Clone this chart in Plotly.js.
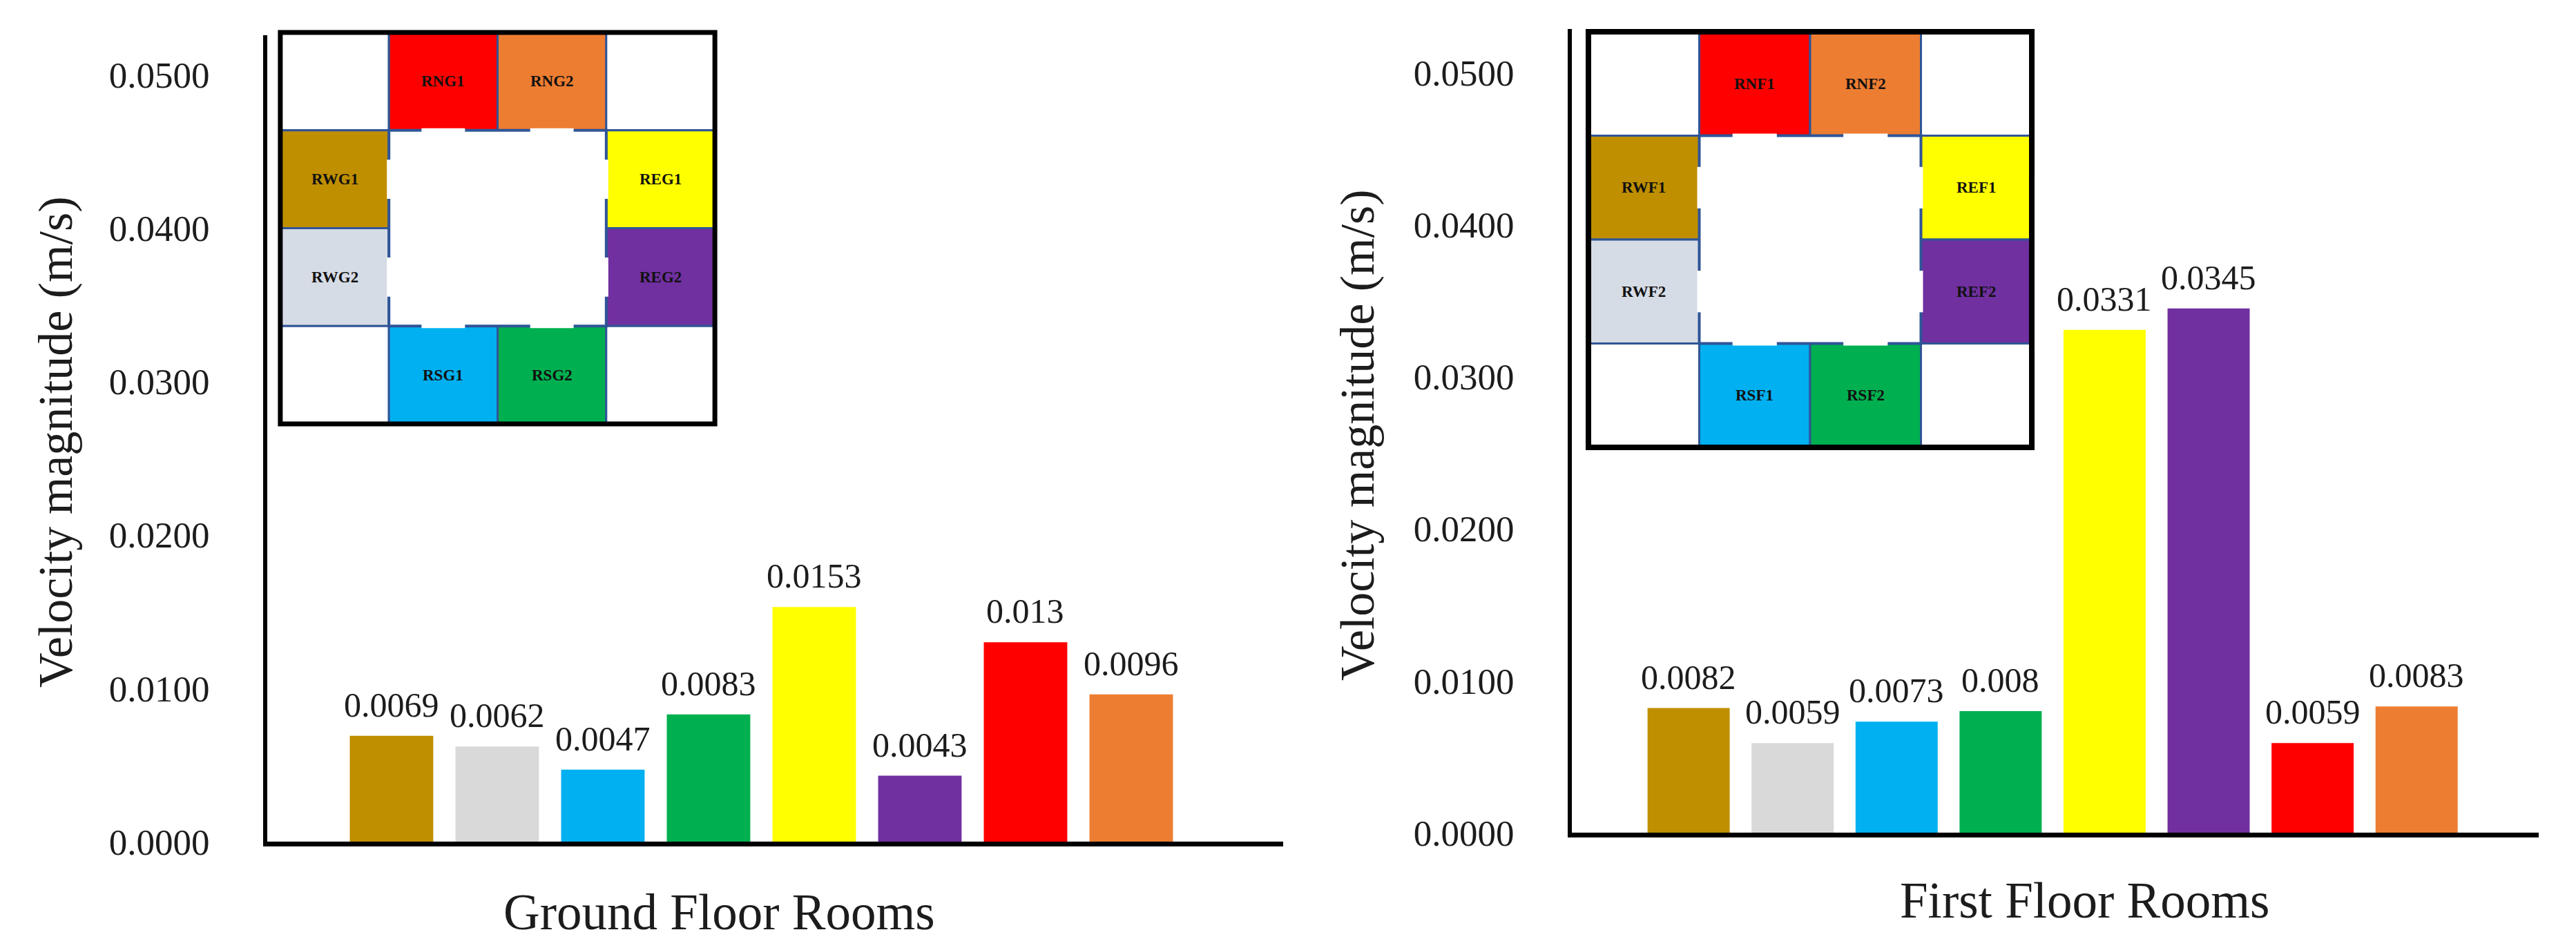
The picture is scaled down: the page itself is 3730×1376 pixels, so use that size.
<!DOCTYPE html>
<html><head><meta charset="utf-8">
<script src="https://cdn.plot.ly/plotly-3.0.1.min.js"></script>
<style>html,body{margin:0;padding:0;background:#fff}</style></head>
<body><div id="chart" style="width:3730px;height:1376px"></div>
<script>
// ---- data ----
const groundRooms = ['RWG1','RWG2','RSG1','RSG2','REG1','REG2','RNG1','RNG2'];
const groundValues = [0.0069,0.0062,0.0047,0.0083,0.0153,0.0043,0.013,0.0096];
const firstRooms = ['RWF1','RWF2','RSF1','RSF2','REF1','REF2','RNF1','RNF2'];
const firstValues = [0.0082,0.0059,0.0073,0.008,0.0331,0.0345,0.0059,0.0083];
const barColors = ['#BF8F00','#D9D9D9','#00B0F0','#00B050','#FFFF00','#7030A0','#FF0000','#ED7D31'];
const planColors = ['#BF8F00','#D6DCE5','#00B0F0','#00B050','#FFFF00','#7030A0','#FF0000','#ED7D31'];
const yTicks = [0,0.01,0.02,0.03,0.04,0.05];
const groundPlan = [['','RNG1','RNG2',''],['RWG1','','','REG1'],['RWG2','','','REG2'],['','RSG1','RSG2','']];
const firstPlan = [['','RNF1','RNF2',''],['RWF1','','','REF1'],['RWF2','','','REF2'],['','RSF1','RSF2','']];
const yTitle = 'Velocity magnitude (m/s)';
const groundTitle = 'Ground Floor Rooms';
const firstTitle = 'First Floor Rooms';

// ---- layout helpers ----
const W = 3730, H = 1376, SERIF = '"Liberation Serif", "Times New Roman", serif', INK = '#1c1c1c', WALL = '#2F5597';
const dx = (a, b) => [a / W, b / W];
const dy = (top, bot) => [1 - bot / H, 1 - top / H];

const shapes = [], annotations = [];

function yAxis(anchor, domain, max) {
  return {anchor, domain, range: [0, max], tickvals: yTicks, tickformat: '.4f', showgrid: false, zeroline: false,
    showline: true, linecolor: '#000', linewidth: 6, ticks: '', ticklabelstandoff: 67,
    tickfont: {family: SERIF, size: 53, color: INK}};
}
function xAxis(anchor, domain, range, cats) {
  return {anchor, domain, range, type: 'category', categoryorder: 'array', categoryarray: cats, showgrid: false, zeroline: false,
    showline: true, linecolor: '#000', linewidth: 7, ticks: '', showticklabels: false};
}
function barTrace(rooms, values, xa, ya) {
  return {type: 'bar', x: rooms, y: values, xaxis: xa, yaxis: ya, marker: {color: barColors, line: {width: 0}},
    hoverinfo: 'x+y', showlegend: false};
}
function valueLabels(rooms, values, xa, ya) {
  rooms.forEach((r, i) => annotations.push({xref: xa, yref: ya, x: r, y: values[i], text: String(values[i]),
    showarrow: false, yanchor: 'bottom', yshift: 15, font: {family: SERIF, size: 50, color: INK}}));
}
function textAt(x, y, text, size, rotate) {
  annotations.push({xref: 'paper', yref: 'paper', x: x / W, y: 1 - y / H, text, showarrow: false, xanchor: 'center', yanchor: 'middle',
    textangle: rotate || 0, font: {family: SERIF, size, color: INK}});
}
function floorPlan(plan, xr, yr, border) {
  const base = {xref: xr, yref: yr};
  const all = groundRooms.concat(firstRooms);
  plan.forEach((row, r) => row.forEach((name, c) => {
    const y1 = 4 - r, y0 = y1 - 1;
    const fill = name ? planColors[all.indexOf(name) % 8] : '#fff';
    shapes.push({...base, type: 'rect', x0: c, x1: c + 1, y0, y1, fillcolor: fill, line: {color: WALL, width: 3}, layer: 'above'});
    if (name) annotations.push({xref: xr, yref: yr, x: c + 0.5, y: y0 + 0.5, text: '<b>' + name + '</b>', showarrow: false,
      font: {family: SERIF, size: 23, color: '#111'}});
  }));
  // centre courtyard with door openings in the walls
  shapes.push({...base, type: 'rect', x0: 1, x1: 3, y0: 1, y1: 3, fillcolor: '#fff', line: {color: WALL, width: 4}, layer: 'above'});
  [1.5, 2.5].forEach(m => {
    [1, 3].forEach(w => {
      shapes.push({...base, type: 'line', x0: m - 0.2, x1: m + 0.2, y0: w, y1: w, line: {color: '#fff', width: 6}, layer: 'above'});
      shapes.push({...base, type: 'line', x0: w, x1: w, y0: m - 0.2, y1: m + 0.2, line: {color: '#fff', width: 6}, layer: 'above'});
    });
  });
  shapes.push({...base, type: 'rect', x0: 0, x1: 4, y0: 0, y1: 4, fillcolor: 'rgba(0,0,0,0)', line: {color: '#000', width: border}, layer: 'above'});
}
// plan axes carry a small margin so the outer border is not clipped by the subplot edge
function planAxis(anchor, domain) {
  return {anchor, domain, range: [-0.05, 4.05], visible: false, fixedrange: true};
}

floorPlan(groundPlan, 'x3', 'y3', 7);
floorPlan(firstPlan, 'x4', 'y4', 8);
valueLabels(groundRooms, groundValues, 'x', 'y');
valueLabels(firstRooms, firstValues, 'x2', 'y2');
textAt(81, 640, yTitle, 70, -90);
textAt(1965, 630, yTitle, 70, -90);
textAt(1041, 1321, groundTitle, 73);
textAt(3018, 1304, firstTitle, 73);

const data = [
  barTrace(groundRooms, groundValues, 'x', 'y'),
  barTrace(firstRooms, firstValues, 'x2', 'y2')
];

const layout = {
  width: W, height: H, autosize: false, margin: {l: 0, r: 0, t: 0, b: 0},
  paper_bgcolor: '#fff', plot_bgcolor: 'rgba(0,0,0,0)', showlegend: false, bargap: 0.21,
  xaxis: xAxis('y', dx(387, 1858), [-1.176, 8.438], groundRooms),
  yaxis: yAxis('x', dy(51, 1219), 0.0526),
  xaxis2: xAxis('y2', dx(2276, 3676), [-1.123, 8.174], firstRooms),
  yaxis2: yAxis('x2', dy(42, 1206), 0.0529),
  xaxis3: planAxis('y3', dx(398, 1043)),
  yaxis3: planAxis('x3', dy(40, 621)),
  xaxis4: planAxis('y4', dx(2292, 2950)),
  yaxis4: planAxis('x4', dy(38.5, 655.5)),
  shapes, annotations
};
Plotly.newPlot('chart', data, layout, {displayModeBar: false, staticPlot: true});
</script></body></html>
